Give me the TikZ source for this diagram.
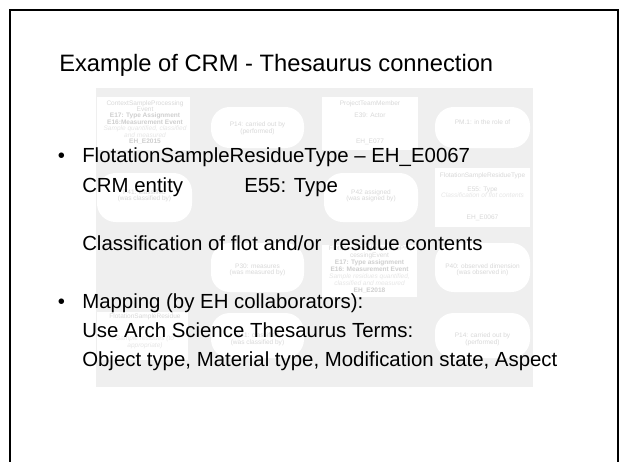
\documentclass[tikz,border=0pt]{standalone}
\usepackage{fontspec}
\setmainfont{Liberation Sans}
\usetikzlibrary{calc}
\definecolor{slidegray}{HTML}{EFEFEF}
\definecolor{dtxt}{HTML}{D8D8D8}
\definecolor{dbold}{HTML}{CFCFCF}
\definecolor{dital}{HTML}{E6E6E6}
\pgfdeclarelayer{bglayer}
\pgfsetlayers{bglayer,main}
\tikzset{
  sz/.style 2 args={minimum width=#1*0.75pt, minimum height=#2*0.75pt},
  box/.style={draw=none, fill=white, rectangle, inner sep=0pt},
  pill/.style={draw=none, fill=white, rectangle, rounded corners=14pt, inner sep=0pt},
  link/.style={draw=white, line width=4.5pt},
  dt/.style={anchor=base, inner sep=0pt, text=dtxt, font=\fontsize{4.9}{5}\selectfont},
  db/.style={dt, text=dbold, font=\fontsize{4.9}{5}\selectfont\bfseries},
  di/.style={dt, text=dital, font=\fontsize{4.9}{5}\selectfont\itshape},
  slidetitle/.style={anchor=base west, inner sep=0pt, font=\fontsize{17.8}{20}\selectfont},
  body/.style={anchor=base west, inner sep=0pt, font=\fontsize{15.3}{18}\selectfont},
}
\begin{document}
\begin{tikzpicture}[x=0.75pt, y=-0.75pt]
\clip (0,0) rectangle (620,461);
\fill[white] (0,0) rectangle (620,461);

% faded diagram background
\node[fill=slidegray, sz={437}{299}, inner sep=0pt, draw=none] (bg) at (314.5,237.5) {};

% shapes
\node[box, sz={93}{53}] (A) at (143.5,123.5) {};
\node[pill, sz={93}{41}] (B) at (257.5,127.5) {};
\node[box, sz={96}{53}] (C) at (370,123.5) {};
\node[pill, sz={95}{41}] (D) at (482.5,127.5) {};
\node[pill, sz={95}{49}] (E) at (144.5,197.5) {};
\node[pill, sz={94}{49}] (F) at (371,197.5) {};
\node[box, sz={95}{59}] (G) at (482.5,197.5) {};
\node[pill, sz={93}{49}] (I) at (257.5,267.5) {};
\node[box, sz={95}{52}] (H) at (369.5,271) {};
\node[pill, sz={95}{49}] (J) at (482.5,267.5) {};
\node[box, sz={91}{48}] (K) at (142.5,336) {};
\node[pill, sz={93}{45}] (M) at (257.5,335.5) {};
\node[pill, sz={95}{45}] (L) at (482.5,335.5) {};
\coordinate (Aout) at (203,85);

\begin{pgfonlayer}{bglayer}
\fill[slidegray] (bg.north west) rectangle (bg.south east);
\draw[link] (A.center |- B.center) -- (B.center);
\draw[link] (B.center) -- (C.center |- B.center);
\draw[link] (C.center |- D.center) -- (D.center);
\draw[link] ($(A.north east)+(-6,4)$) -- (Aout);
\draw[link] (E.center |- A.center) -- (E.center);
\draw[link] (F.center) -- (G.center |- F.center);
\draw[link] (F.center) -- (F.center |- H.center);
\draw[link] (I.center) -- (H.center |- I.center);
\draw[link] (H.center |- J.center) -- (J.center);
\draw[link] (H.center) -- (L.center);
\draw[link] (H.center) -- (M.center);
\draw[link] (K.center) -- (M.center |- K.center);
\end{pgfonlayer}

% faded diagram texts
\node[dt] (a1) at (145,105) {ContextSampleProcessing};
\node[dt] (a2) at (145,111.4) {Event};
\node[db] (a3) at (145,117.8) {E17: Type Assignment};
\node[db] (a4) at (145,124.2) {E16:Measurement Event};
\node[di] (a5) at (145,130.6) {Sample quantified, classified};
\node[di] (a6) at (145,137) {and measured};
\node[db] (a7) at (145,143.4) {EH\_E2015};

\node[dt] (b1) at (257.5,126.5) {P14: carried out by};
\node[dt] (b2) at (257.5,133) {(performed)};

\node[dt] (c1) at (370,105) {ProjectTeamMember};
\node[dt] (c2) at (370,117.8) {E39: Actor};
\node[dt] (c3) at (370,143.4) {EH\_E077};

\node[dt] (d1) at (482.5,124.5) {PM.1: in the role of};

\node[dt] (e1) at (144.5,194) {P41: classified};
\node[dt] (e2) at (144.5,200.8) {(was classified by)};

\node[dt] (f1) at (371,194) {P42 assigned};
\node[dt] (f2) at (371,200.8) {(was asigned by)};

\node[dt] (g1) at (482.5,177) {FlotationSampleResidueType};
\node[dt] (g2) at (482.5,191) {E55: Type};
\node[di] (g3) at (482.5,197.5) {Classification of flot contents};
\node[dt] (g4) at (482.5,219) {EH\_E0067};

\node[dt] (i1) at (257.5,268.3) {P30: measures};
\node[dt] (i2) at (257.5,274.7) {(was measured by)};

\node[dt] (h1) at (369.5,250) {FlotationSampleResiduePro};
\node[dt] (h2) at (369.5,257) {cessingEvent};
\node[db] (h3) at (369.5,264) {E17: Type assignment};
\node[db] (h4) at (369.5,271) {E16: Measurement Event};
\node[di] (h5) at (369.5,278) {Sample residues quantified,};
\node[di] (h6) at (369.5,285) {classified and measured};
\node[db] (h7) at (369.5,292) {EH\_E2018};

\node[dt] (j1) at (482.5,268.3) {P40: observed dimension};
\node[dt] (j2) at (482.5,274.7) {(was observed in)};

\node[dt] (k1) at (145,318) {FlotationSampleResidue};
\node[di] (k2) at (145,340.3) {Sample residues (to};
\node[di] (k3) at (145,347.3) {appropriate)};

\node[dt] (m1) at (257.5,337.5) {P41: classified};
\node[dt] (m2) at (257.5,344) {(was classified by)};

\node[dt] (l1) at (482.5,337.5) {P14: carried out by};
\node[dt] (l2) at (482.5,344) {(performed)};

% slide frame
\draw[line width=1.6pt] (9.8,9.6) rectangle (618.4,480);

% slide texts
\node[slidetitle] (title) at (59,71) {Example of CRM - Thesaurus connection};
\node[body] (dot1) at (57.5,162) {•};
\node[body] (t1) at (82,162) {FlotationSampleResidueType – EH\_E0067};
\node[body] (t2) at (82,192) {CRM entity};
\node[body] (t2b) at (244,192) {E55: Type};
\node[body] (t3) at (82,250) {Classification of flot and/or\ \ residue contents};
\node[body] (dot2) at (57.5,308) {•};
\node[body] (t4) at (82,308) {Mapping (by EH collaborators):};
\node[body] (t5) at (82,337) {Use Arch Science Thesaurus Terms:};
\node[body] (t6) at (82,366) {Object type, Material type, Modification state, Aspect};
\end{tikzpicture}
\end{document}
